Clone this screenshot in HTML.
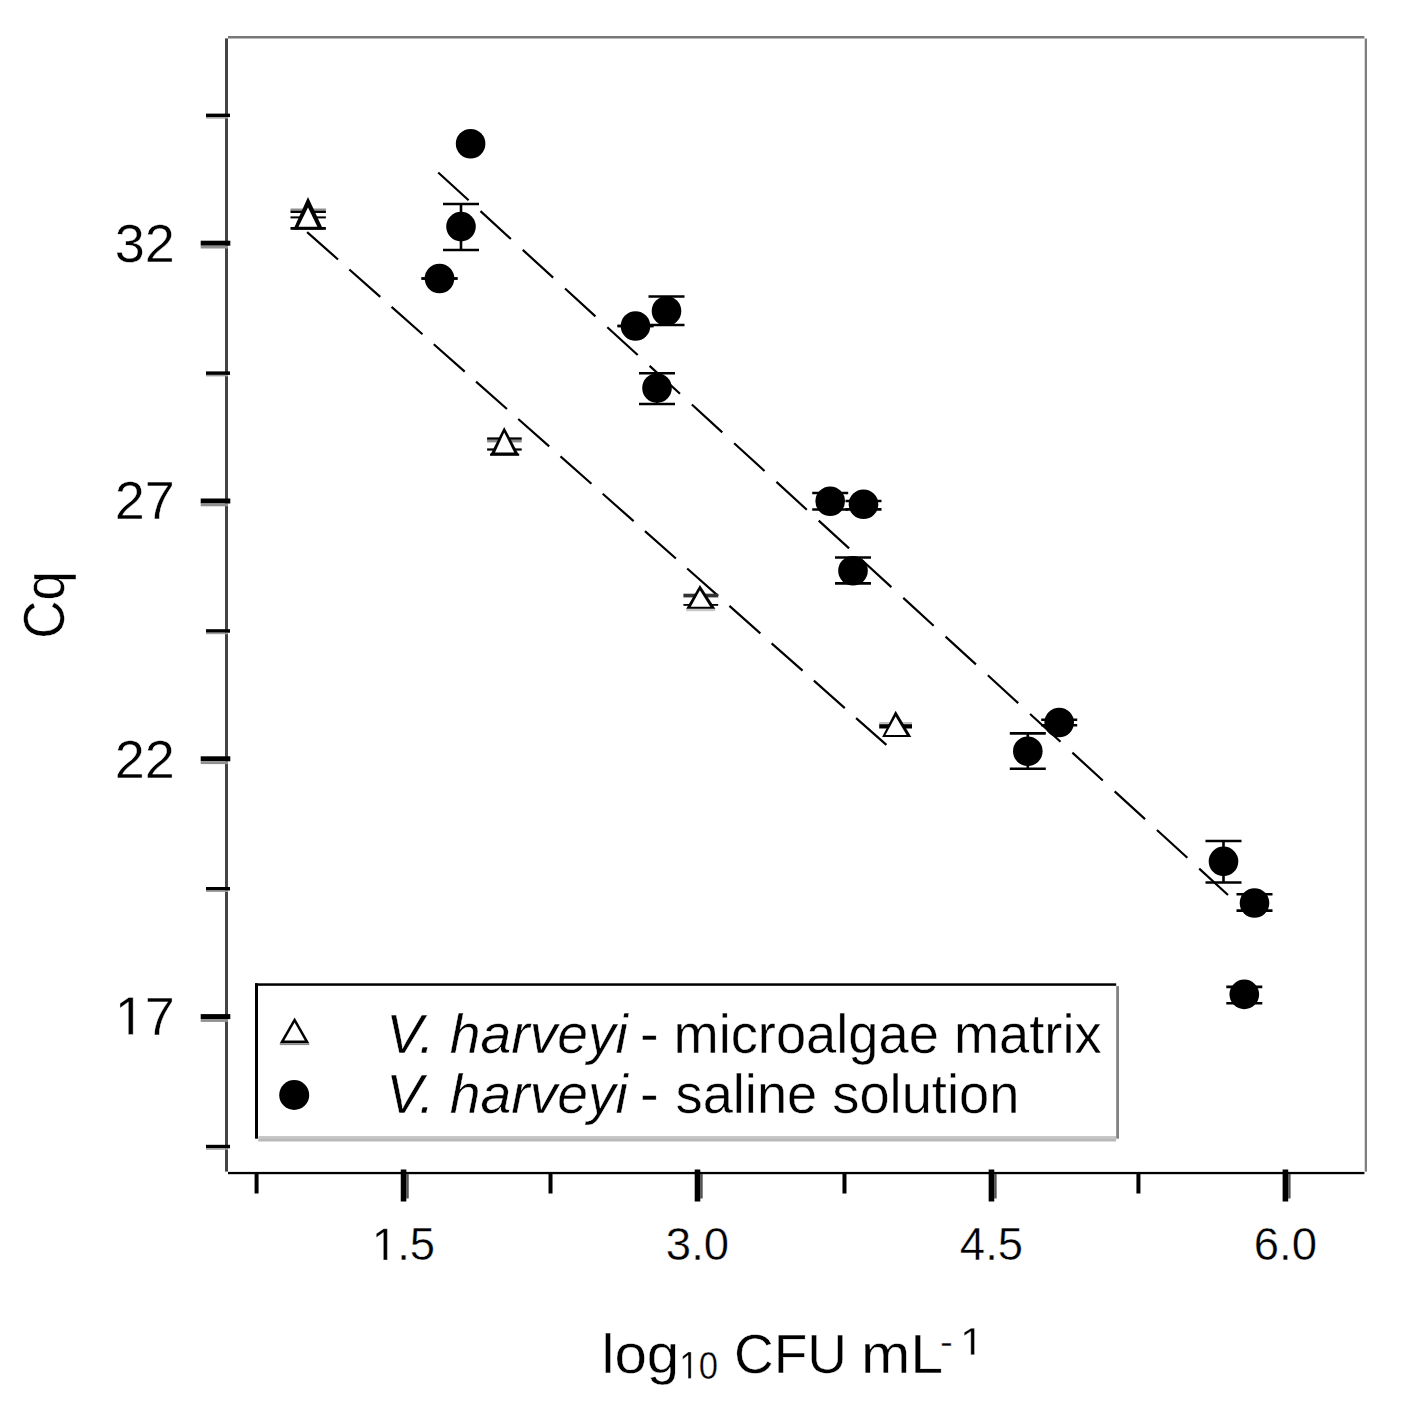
<!DOCTYPE html>
<html><head><meta charset="utf-8"><style>
html,body{margin:0;padding:0;background:#fff;}
body{width:1402px;height:1402px;overflow:hidden;}
svg{display:block;font-family:"Liberation Sans",sans-serif;}
text,.g{fill:#000;stroke:#fff;stroke-width:0.4px;}
</style></head><body>
<svg width="1402" height="1402" viewBox="0 0 1402 1402">
<rect width="1402" height="1402" fill="#fff"/>
<rect x="225.00" y="38.40" width="3.00" height="1133.20" fill="#444"/>
<rect x="228.00" y="36.00" width="1136.40" height="2.50" fill="#777"/>
<rect x="1364.70" y="38.50" width="2.30" height="1133.10" fill="#7f7f7f"/>
<rect x="228.00" y="1171.90" width="1136.40" height="2.30" fill="#000"/>
<rect x="200.70" y="240.70" width="29.60" height="5.00" fill="#000"/>
<rect x="200.70" y="245.70" width="27.30" height="2.80" fill="#909090"/>
<rect x="200.70" y="498.50" width="29.60" height="5.00" fill="#000"/>
<rect x="200.70" y="503.50" width="27.30" height="2.80" fill="#909090"/>
<rect x="200.70" y="756.30" width="29.60" height="5.00" fill="#000"/>
<rect x="200.70" y="761.30" width="27.30" height="2.80" fill="#909090"/>
<rect x="200.70" y="1014.10" width="29.60" height="5.00" fill="#000"/>
<rect x="200.70" y="1019.10" width="27.30" height="2.80" fill="#909090"/>
<rect x="206.00" y="113.60" width="24.00" height="3.50" fill="#000"/>
<rect x="206.00" y="117.10" width="22.00" height="1.50" fill="#a0a0a0"/>
<rect x="206.00" y="371.40" width="24.00" height="3.50" fill="#000"/>
<rect x="206.00" y="374.90" width="22.00" height="1.50" fill="#a0a0a0"/>
<rect x="206.00" y="629.20" width="24.00" height="3.50" fill="#000"/>
<rect x="206.00" y="632.70" width="22.00" height="1.50" fill="#a0a0a0"/>
<rect x="206.00" y="887.00" width="24.00" height="3.50" fill="#000"/>
<rect x="206.00" y="890.50" width="22.00" height="1.50" fill="#a0a0a0"/>
<rect x="206.00" y="1144.80" width="24.00" height="3.50" fill="#000"/>
<rect x="206.00" y="1148.30" width="22.00" height="1.50" fill="#a0a0a0"/>
<rect x="406.35" y="1174.00" width="2.40" height="24.50" fill="#555"/>
<rect x="400.75" y="1169.50" width="5.60" height="32.00" fill="#000"/>
<rect x="700.30" y="1174.00" width="2.40" height="24.50" fill="#555"/>
<rect x="694.70" y="1169.50" width="5.60" height="32.00" fill="#000"/>
<rect x="994.25" y="1174.00" width="2.40" height="24.50" fill="#555"/>
<rect x="988.65" y="1169.50" width="5.60" height="32.00" fill="#000"/>
<rect x="1288.21" y="1174.00" width="2.40" height="24.50" fill="#555"/>
<rect x="1282.61" y="1169.50" width="5.60" height="32.00" fill="#000"/>
<rect x="254.57" y="1172.00" width="4.00" height="21.50" fill="#000"/>
<rect x="548.52" y="1172.00" width="4.00" height="21.50" fill="#000"/>
<rect x="842.48" y="1172.00" width="4.00" height="21.50" fill="#000"/>
<rect x="1136.43" y="1172.00" width="4.00" height="21.50" fill="#000"/>
<text transform="translate(114.80,262.10) scale(1.0000,1)" font-size="54" >32</text>
<text transform="translate(114.80,519.30) scale(1.0000,1)" font-size="54" >27</text>
<text transform="translate(114.80,778.20) scale(1.0000,1)" font-size="54" >22</text>
<polygon class="g" points="128.38,1034.60 128.38,1001.98 119.99,1007.97 119.99,1003.49 128.77,997.45 133.15,997.45 133.15,1034.60"/>
<text transform="translate(144.83,1034.60) scale(1.0000,1)" font-size="54" >7</text>
<polygon class="g" points="383.36,1260.00 383.36,1232.52 376.30,1237.56 376.30,1233.78 383.69,1228.70 387.38,1228.70 387.38,1260.00"/>
<text transform="translate(397.22,1260.00) scale(1.0000,1)" font-size="45.5" >.5</text>
<text transform="translate(665.87,1260.00) scale(1.0000,1)" font-size="45.5" >3.0</text>
<text transform="translate(959.83,1260.00) scale(1.0000,1)" font-size="45.5" >4.5</text>
<text transform="translate(1253.78,1260.00) scale(1.0000,1)" font-size="45.5" >6.0</text>
<text transform="translate(63.8,638.7) rotate(-90) scale(0.92,1)" font-size="57.5">Cq</text>
<text transform="translate(601.46,1372.80) scale(1.0600,1)" font-size="55" >log</text>
<polygon class="g" points="688.08,1378.50 688.08,1355.25 682.70,1359.51 682.70,1356.32 688.34,1352.01 691.15,1352.01 691.15,1378.50"/>
<text transform="translate(698.64,1378.50) scale(0.9000,1)" font-size="38.5" >0</text>
<text transform="translate(734.00,1372.80) scale(1.0000,1)" font-size="55" >CFU</text>
<text transform="translate(861.00,1373.20) scale(1.0750,1)" font-size="55" >mL</text>
<text transform="translate(940.00,1355.30) scale(1.0000,1)" font-size="38.5" >-</text>
<polygon class="g" points="970.78,1354.70 970.78,1331.45 964.20,1335.71 964.20,1332.52 971.09,1328.21 974.52,1328.21 974.52,1354.70"/>
<line x1="438.20" y1="172.50" x2="1228.00" y2="895.00" stroke="#000" stroke-width="2.2" stroke-dasharray="41.2 16.1"/>
<line x1="307.10" y1="232.10" x2="886.40" y2="744.90" stroke="#000" stroke-width="2.2" stroke-dasharray="41.3 15.1"/>
<line x1="461.00" y1="204.00" x2="461.00" y2="250.00" stroke="#000" stroke-width="2.6" />
<line x1="443.00" y1="204.00" x2="479.00" y2="204.00" stroke="#000" stroke-width="2.6" />
<line x1="443.00" y1="250.00" x2="479.00" y2="250.00" stroke="#000" stroke-width="2.6" />
<line x1="439.50" y1="278.50" x2="439.50" y2="278.50" stroke="#000" stroke-width="2.6" />
<line x1="421.50" y1="278.50" x2="457.50" y2="278.50" stroke="#000" stroke-width="2.6" />
<line x1="421.50" y1="278.50" x2="457.50" y2="278.50" stroke="#000" stroke-width="2.6" />
<line x1="635.50" y1="326.00" x2="635.50" y2="326.00" stroke="#000" stroke-width="2.6" />
<line x1="617.50" y1="326.00" x2="653.50" y2="326.00" stroke="#000" stroke-width="2.6" />
<line x1="617.50" y1="326.00" x2="653.50" y2="326.00" stroke="#000" stroke-width="2.6" />
<line x1="666.50" y1="296.50" x2="666.50" y2="325.00" stroke="#000" stroke-width="2.6" />
<line x1="648.50" y1="296.50" x2="684.50" y2="296.50" stroke="#000" stroke-width="2.6" />
<line x1="648.50" y1="325.00" x2="684.50" y2="325.00" stroke="#000" stroke-width="2.6" />
<line x1="657.00" y1="373.20" x2="657.00" y2="404.00" stroke="#000" stroke-width="2.6" />
<line x1="639.00" y1="373.20" x2="675.00" y2="373.20" stroke="#000" stroke-width="2.6" />
<line x1="639.00" y1="404.00" x2="675.00" y2="404.00" stroke="#000" stroke-width="2.6" />
<line x1="830.20" y1="493.00" x2="830.20" y2="509.50" stroke="#000" stroke-width="2.6" />
<line x1="812.20" y1="493.00" x2="848.20" y2="493.00" stroke="#000" stroke-width="2.6" />
<line x1="812.20" y1="509.50" x2="848.20" y2="509.50" stroke="#000" stroke-width="2.6" />
<line x1="863.50" y1="501.00" x2="863.50" y2="509.40" stroke="#000" stroke-width="2.6" />
<line x1="845.50" y1="501.00" x2="881.50" y2="501.00" stroke="#000" stroke-width="2.6" />
<line x1="845.50" y1="509.40" x2="881.50" y2="509.40" stroke="#000" stroke-width="2.6" />
<line x1="853.00" y1="557.50" x2="853.00" y2="583.40" stroke="#000" stroke-width="2.6" />
<line x1="835.00" y1="557.50" x2="871.00" y2="557.50" stroke="#000" stroke-width="2.6" />
<line x1="835.00" y1="583.40" x2="871.00" y2="583.40" stroke="#000" stroke-width="2.6" />
<line x1="1027.80" y1="733.40" x2="1027.80" y2="768.80" stroke="#000" stroke-width="2.6" />
<line x1="1009.80" y1="733.40" x2="1045.80" y2="733.40" stroke="#000" stroke-width="2.6" />
<line x1="1009.80" y1="768.80" x2="1045.80" y2="768.80" stroke="#000" stroke-width="2.6" />
<line x1="1059.20" y1="719.80" x2="1059.20" y2="725.30" stroke="#000" stroke-width="2.6" />
<line x1="1041.20" y1="719.80" x2="1077.20" y2="719.80" stroke="#000" stroke-width="2.6" />
<line x1="1041.20" y1="725.30" x2="1077.20" y2="725.30" stroke="#000" stroke-width="2.6" />
<line x1="1223.50" y1="841.00" x2="1223.50" y2="882.50" stroke="#000" stroke-width="2.6" />
<line x1="1205.50" y1="841.00" x2="1241.50" y2="841.00" stroke="#000" stroke-width="2.6" />
<line x1="1205.50" y1="882.50" x2="1241.50" y2="882.50" stroke="#000" stroke-width="2.6" />
<line x1="1254.50" y1="894.20" x2="1254.50" y2="910.60" stroke="#000" stroke-width="2.6" />
<line x1="1236.50" y1="894.20" x2="1272.50" y2="894.20" stroke="#000" stroke-width="2.6" />
<line x1="1236.50" y1="910.60" x2="1272.50" y2="910.60" stroke="#000" stroke-width="2.6" />
<line x1="1244.30" y1="986.90" x2="1244.30" y2="1003.30" stroke="#000" stroke-width="2.6" />
<line x1="1226.30" y1="986.90" x2="1262.30" y2="986.90" stroke="#000" stroke-width="2.6" />
<line x1="1226.30" y1="1003.30" x2="1262.30" y2="1003.30" stroke="#000" stroke-width="2.6" />
<circle cx="470.60" cy="143.80" r="14.80" fill="#000"/>
<circle cx="461.00" cy="226.60" r="14.80" fill="#000"/>
<circle cx="439.50" cy="278.50" r="14.80" fill="#000"/>
<circle cx="635.50" cy="326.00" r="14.80" fill="#000"/>
<circle cx="666.50" cy="311.00" r="14.80" fill="#000"/>
<circle cx="657.00" cy="388.00" r="14.80" fill="#000"/>
<circle cx="830.20" cy="501.30" r="14.80" fill="#000"/>
<circle cx="863.50" cy="504.30" r="14.80" fill="#000"/>
<circle cx="853.00" cy="570.80" r="14.80" fill="#000"/>
<circle cx="1027.80" cy="751.20" r="14.80" fill="#000"/>
<circle cx="1059.20" cy="722.50" r="14.80" fill="#000"/>
<circle cx="1223.50" cy="861.40" r="14.80" fill="#000"/>
<circle cx="1254.50" cy="903.00" r="14.80" fill="#000"/>
<circle cx="1244.30" cy="994.40" r="14.80" fill="#000"/>
<rect x="290.50" y="208.50" width="35.40" height="2.10" fill="#909090"/>
<rect x="290.50" y="210.60" width="35.40" height="2.40" fill="#000"/>
<rect x="290.50" y="216.40" width="35.40" height="2.00" fill="#000"/>
<rect x="290.50" y="227.00" width="35.40" height="2.80" fill="#000"/>
<rect x="487.10" y="437.40" width="34.60" height="2.40" fill="#000"/>
<rect x="487.10" y="439.80" width="34.60" height="2.60" fill="#8a8a8a"/>
<rect x="487.10" y="448.40" width="34.60" height="2.20" fill="#000"/>
<rect x="683.40" y="593.70" width="34.80" height="3.70" fill="#333"/>
<rect x="683.40" y="604.00" width="34.80" height="1.80" fill="#000"/>
<rect x="686.20" y="608.80" width="29.10" height="2.40" fill="#c8c8c8"/>
<rect x="879.20" y="722.00" width="32.80" height="2.20" fill="#c0c0c0"/>
<rect x="879.20" y="724.20" width="32.80" height="4.30" fill="#000"/>
<rect x="307.00" y="209.00" width="2.00" height="20.00" fill="#000"/>
<polygon points="308.00,197.10 293.40,229.60 323.10,229.60" fill="#000"/>
<polygon points="308.00,207.50 298.50,226.80 317.40,226.80" fill="#fff"/>
<polygon points="504.20,427.10 490.00,455.60 519.20,455.60" fill="#000"/>
<polygon points="504.20,432.50 495.00,452.40 514.20,452.40" fill="#fff"/>
<rect x="490.00" y="453.60" width="29.20" height="2.00" fill="#000"/>
<polygon points="699.90,585.10 686.20,608.80 715.30,608.80" fill="#000"/>
<polygon points="699.90,590.20 690.80,606.80 710.20,606.80" fill="#fff"/>
<polygon points="895.60,710.70 882.10,737.10 911.30,737.10" fill="#000"/>
<polygon points="895.60,716.40 885.40,734.90 906.60,734.90" fill="#fff"/>
<rect x="255.00" y="983.30" width="864.00" height="158.20" fill="#fff"/>
<rect x="255.00" y="983.30" width="861.20" height="2.50" fill="#000"/>
<rect x="255.00" y="983.30" width="3.00" height="155.40" fill="#000"/>
<rect x="258.30" y="1136.10" width="857.80" height="2.90" fill="#c4c4c4"/>
<rect x="258.30" y="1139.00" width="857.80" height="2.50" fill="#b9b9b9"/>
<rect x="1116.20" y="986.10" width="2.80" height="152.60" fill="#828282"/>
<polygon points="294.60,1017.50 279.80,1043.20 309.30,1043.20" fill="#000"/>
<polygon points="294.60,1022.60 284.30,1040.60 304.80,1040.60" fill="#fff"/>
<rect x="279.80" y="1043.20" width="29.50" height="1.90" fill="#8c8c8c"/>
<circle cx="294.20" cy="1095.00" r="15.00" fill="#000"/>
<text transform="translate(386.30,1053.00) scale(0.9870,1)" font-size="56" font-style="italic">V. harveyi</text>
<text transform="translate(640.00,1053.00) scale(1.0000,1)" font-size="56" >-</text>
<text transform="translate(673.50,1053.00) scale(0.9690,1)" font-size="56" >microalgae matrix</text>
<text transform="translate(386.30,1113.00) scale(0.9870,1)" font-size="56" font-style="italic">V. harveyi</text>
<text transform="translate(640.00,1113.00) scale(1.0000,1)" font-size="56" >-</text>
<text transform="translate(675.50,1113.00) scale(0.9690,1)" font-size="56" >saline solution</text>
</svg>
</body></html>
